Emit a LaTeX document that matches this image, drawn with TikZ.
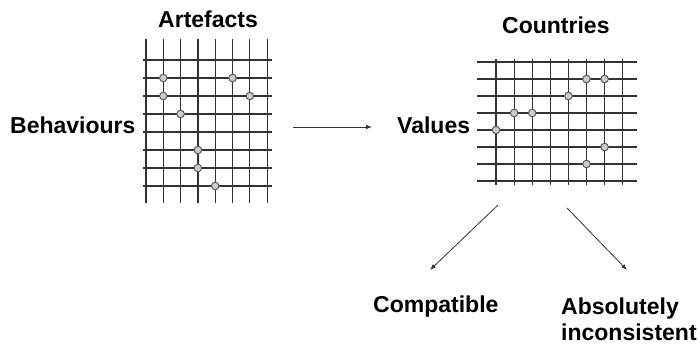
\documentclass[tikz,border=0pt]{standalone}
\usepackage{fontspec}
\setmainfont{Liberation Sans}
\usetikzlibrary{arrows.meta}

\tikzstyle{every node}=[anchor=base west, inner sep=0pt, font={\fontsize{23}{26}\selectfont\bfseries}]
\tikzstyle{gridline}=[black!80, line width=1.2pt]
\tikzstyle{hit}=[draw=black!65, fill=black!20, line width=1pt]
\tikzstyle{link}=[-{Latex[length=6pt,width=4.5pt]}, black!80, line width=0.8pt]

\begin{document}
\begin{tikzpicture}[x=1pt,y=-1pt]
    \useasboundingbox (0,0) rectangle (700,349);
    % artefacts x behaviours
    \foreach \i in {0,...,7} {
        \draw [gridline] (146+17.3*\i,39) -- (146+17.3*\i,203);
        \draw [gridline] (143,60+18*\i) -- (272,60+18*\i);
    }
    \foreach \c/\r in {1/1,5/1,1/2,6/2,2/3,3/5,3/6,4/7}
        \filldraw [hit] (146+17.3*\c,60+18*\r) circle (3.8pt);
    % countries x values
    \foreach \i in {0,...,7} {
        \draw [gridline] (496+18.1*\i,59) -- (496+18.1*\i,185);
        \draw [gridline] (477,62+17*\i) -- (637,62+17*\i);
    }
    \foreach \c/\r in {0/4,1/3,2/3,4/2,5/1,6/1,6/5,5/6}
        \filldraw [hit] (496+18.1*\c,62+17*\r) circle (3.8pt);

    \node (artefacts) at (158,27) {Artefacts};
    \node (countries) at (502,33) {Countries};
    \node (behaviours) at (10,133) {Behaviours};
    \node (values) at (397,133) {Values};
    \node (compatible) at (373,312) {Compatible};
    \node [anchor=north west, align=left] (inconsistent) at (561,298) {Absolutely\\inconsistent};

    \coordinate (from) at (293,127);
    \coordinate (fork1) at (498,205);
    \coordinate (tip1) at (430,270);
    \coordinate (fork2) at (567,208);
    \coordinate (tip2) at (627,270);
    \draw [link, shorten >=25pt] (from) -- (from -| values.west);
    \draw [link] (fork1) -- (tip1);
    \draw [link] (fork2) -- (tip2);
\end{tikzpicture}
\end{document}
